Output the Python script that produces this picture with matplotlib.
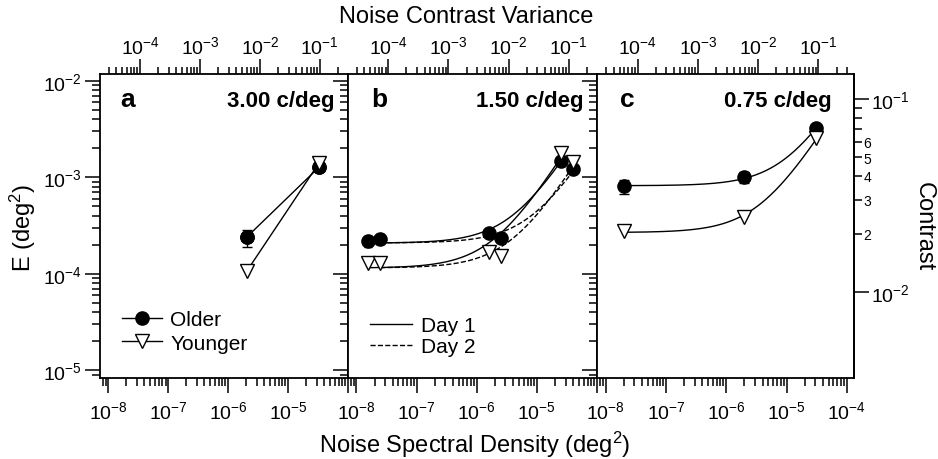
import numpy as np
import matplotlib
matplotlib.use("Agg")
import matplotlib.pyplot as plt
from matplotlib.ticker import LogLocator, FixedLocator, FuncFormatter, NullFormatter

plt.rcParams['font.family'] = ['Liberation Sans', 'DejaVu Sans']
plt.rcParams['mathtext.fontset'] = 'custom'
plt.rcParams['mathtext.rm'] = 'Liberation Sans'
plt.rcParams['mathtext.it'] = 'Liberation Sans:italic'
plt.rcParams['mathtext.bf'] = 'Liberation Sans:bold'
plt.rcParams['axes.linewidth'] = 1.3

# ------------------ data ------------------
# panel a : 3.00 c/deg
a_noise = [2.03e-6, 3.25e-5]
a_older = [2.4e-4, 1.27e-3]
a_older_err = [4.8e-5, 8e-5]
a_younger = [1.06e-4, 1.4e-3]

# panel b : 1.50 c/deg, two sessions
b_noise_day1 = [1.55e-8, 1.58e-6, 2.5e-5]
b_noise_day2 = [2.48e-8, 2.5e-6, 4.03e-5]
b_older_day1 = [2.2e-4, 2.67e-4, 1.49e-3]
b_older_day2 = [2.3e-4, 2.37e-4, 1.21e-3]
b_older_err1 = [2.8e-5, 2.0e-5, 1.0e-4]
b_older_err2 = [2.5e-5, 2.0e-5, 1.0e-4]
b_younger_day1 = [1.3e-4, 1.68e-4, 1.78e-3]
b_younger_day2 = [1.3e-4, 1.55e-4, 1.43e-3]

# panel c : 0.75 c/deg
c_noise = [2.04e-8, 2.0e-6, 3.1e-5]
c_older = [8.1e-4, 1.0e-3, 3.23e-3]
c_older_err = [1.4e-4, 1.3e-4, 1.5e-4]
c_younger = [2.8e-4, 3.88e-4, 2.54e-3]

panel_letters = ['a', 'b', 'c']
panel_freqs = ['3.00 c/deg', '1.50 c/deg', '0.75 c/deg']
bottom_ticks = [1e-8, 1e-7, 1e-6, 1e-5, 1e-4]
top_ticks = [1e-4, 1e-3, 1e-2, 1e-1]

F_VAR = 10 ** 3.47   # spectral density -> contrast variance
K_CON = 0.65         # E = K * contrast^2


def lam_fit(n, e):
    # E = k * (N + Neq), least squares in log space
    n = np.asarray(n)
    e = np.asarray(e)
    best = None
    for neq in np.logspace(-8, -4, 801):
        r = np.log10(e) - np.log10(n + neq)
        lk = r.mean()
        sse = ((r - lk) ** 2).sum()
        if best is None or sse < best[0]:
            best = (sse, 10 ** lk, neq)
    return best[1], best[2]


def fit_curve(ax, n, e, ls):
    k, neq = lam_fit(n, e)
    xs = np.logspace(np.log10(min(n)), np.log10(max(n)), 200)
    ax.plot(xs, k * (xs + neq), color='k', lw=1.0, ls=ls, zorder=2)


def pow_label(v, pos):
    return r'$10^{%d}$' % int(round(np.log10(v)))


older_kw = dict(marker='o', ms=9.5, mfc='k', mec='k', color='k')
young_kw = dict(marker='v', ms=10, mfc='white', mec='k', mew=1.0, color='k')

W, H = 938, 460
fig = plt.figure(figsize=(W / 100, H / 100), dpi=100)


def px_axes(x0, x1, y0, y1):
    return fig.add_axes([x0 / W, 1 - y1 / H, (x1 - x0) / W, (y1 - y0) / H])


ax_a = px_axes(100, 348, 74.7, 379.3)
ax_b = px_axes(348, 597, 74.7, 379.3)
ax_c = px_axes(597, 854, 74.7, 379.3)
axes = [ax_a, ax_b, ax_c]

xlims = [(10 ** -8.14, 1e-4), (10 ** -8.14, 1e-4), (10 ** -8.145, 10 ** -3.88)]

for i, ax in enumerate(axes):
    ax.set_xscale('log')
    ax.set_yscale('log')
    ax.set_xlim(*xlims[i])
    ax.set_ylim(10 ** -5.083, 10 ** -1.924)
    ax.xaxis.set_major_locator(FixedLocator(bottom_ticks))
    ax.xaxis.set_minor_locator(LogLocator(10, subs=np.arange(2, 10), numticks=20))
    ax.yaxis.set_major_locator(LogLocator(10, numticks=20))
    ax.yaxis.set_minor_locator(LogLocator(10, subs=np.arange(2, 10), numticks=20))
    hide_last = i < 2
    ax.xaxis.set_major_formatter(FuncFormatter(
        lambda v, p, h=hide_last: '' if (h and v > 5e-5) else pow_label(v, p)))
    ax.xaxis.set_minor_formatter(NullFormatter())
    ax.yaxis.set_minor_formatter(NullFormatter())
    if i == 0:
        ax.yaxis.set_major_formatter(FuncFormatter(pow_label))
    else:
        ax.yaxis.set_major_formatter(NullFormatter())
    ax.tick_params(which='both', direction='out', top=False, right=False, width=1.1)
    ax.tick_params(which='major', length=11)
    ax.tick_params(which='minor', length=6)
    ax.tick_params(axis='x', which='major', labelsize=14, pad=5)
    ax.tick_params(axis='y', which='major', labelsize=14, pad=2)

    sec = ax.secondary_xaxis('top', functions=(lambda x: x * F_VAR, lambda x: x / F_VAR))
    sec.xaxis.set_major_locator(FixedLocator(top_ticks))
    sec.xaxis.set_minor_locator(LogLocator(10, subs=np.arange(2, 10), numticks=20))
    sec.xaxis.set_major_formatter(FuncFormatter(pow_label))
    sec.xaxis.set_minor_formatter(NullFormatter())
    sec.tick_params(which='both', direction='out', width=1.1)
    sec.tick_params(which='major', length=11, labelsize=14, pad=1)
    sec.tick_params(which='minor', length=5)
    sec.spines['top'].set_visible(False)

    ax.text(0.081 if i == 0 else (0.095 if i == 1 else 0.09), 0.895, panel_letters[i],
            transform=ax.transAxes, fontsize=19, fontweight='bold', ha='left', va='baseline')
    ax.text(0.944 if i < 2 else 0.914, 0.895, panel_freqs[i], transform=ax.transAxes,
            fontsize=16, fontweight='bold', ha='right', va='baseline')

# ------------------ panel a ------------------
ax_a.errorbar(a_noise, a_older, yerr=a_older_err, capsize=3.5, elinewidth=1,
              capthick=1, ls='none', zorder=3, **older_kw)
h_old, = ax_a.plot(a_noise, a_older, lw=1.0, zorder=3, **older_kw)
h_young, = ax_a.plot(a_noise, a_younger, lw=1.0, zorder=4, **young_kw)
ax_a.legend([h_old, h_young], ['Older', 'Younger'], loc='upper left',
            bbox_to_anchor=(0.09, 0.223), frameon=False, fontsize=15,
            handlelength=1.9, handletextpad=0.4, labelspacing=0.2, borderpad=0,
            borderaxespad=0)

# ------------------ panel b ------------------
fit_curve(ax_b, b_noise_day1, b_older_day1, '-')
fit_curve(ax_b, b_noise_day2, b_older_day2, '--')
fit_curve(ax_b, b_noise_day1, b_younger_day1, '-')
fit_curve(ax_b, b_noise_day2, b_younger_day2, '--')
ax_b.errorbar(b_noise_day1, b_older_day1, yerr=b_older_err1, capsize=3, elinewidth=1,
              zorder=3, ls='none', **older_kw)
ax_b.errorbar(b_noise_day2, b_older_day2, yerr=b_older_err2, capsize=3, elinewidth=1,
              zorder=3, ls='none', **older_kw)
ax_b.plot(b_noise_day1, b_younger_day1, ls='none', zorder=4, **young_kw)
ax_b.plot(b_noise_day2, b_younger_day2, ls='none', zorder=4, **young_kw)
h_d1, = ax_b.plot([], [], color='k', lw=1.0, ls='-')
h_d2, = ax_b.plot([], [], color='k', lw=1.0, ls='--')
ax_b.legend([h_d1, h_d2], ['Day 1', 'Day 2'], loc='upper left',
            bbox_to_anchor=(0.09, 0.204), frameon=False, fontsize=15,
            handlelength=2.0, handletextpad=0.45, labelspacing=0.1, borderpad=0,
            borderaxespad=0)

# ------------------ panel c ------------------
fit_curve(ax_c, c_noise, c_older, '-')
fit_curve(ax_c, c_noise, c_younger, '-')
ax_c.errorbar(c_noise, c_older, yerr=c_older_err, capsize=3.5, elinewidth=1, ls='none',
              zorder=3, **older_kw)
ax_c.plot(c_noise, c_younger, ls='none', zorder=4, **young_kw)

secy = ax_c.secondary_yaxis('right', functions=(lambda e: np.sqrt(np.abs(e) / K_CON),
                                                lambda c: K_CON * c ** 2))
secy.yaxis.set_major_locator(FixedLocator([0.01, 0.1]))
secy.yaxis.set_minor_locator(FixedLocator(np.arange(2, 10) * 0.01))
secy.yaxis.set_major_formatter(FuncFormatter(pow_label))
secy.yaxis.set_minor_formatter(FuncFormatter(
    lambda v, p: str(int(round(v * 100))) if v < 0.065 else ''))
secy.tick_params(which='both', direction='out', width=1.1)
secy.tick_params(which='major', length=11, labelsize=14, pad=1)
secy.tick_params(which='minor', length=6, labelsize=10, pad=1)

# ------------------ shared labels ------------------
fig.text(466 / W, 1 - 17 / H, 'Noise Contrast Variance', ha='center', va='center', fontsize=17)
fig.text(475 / W, 1 - 445 / H, 'Noise Spectral Density (deg$^2$)', ha='center', va='center',
         fontsize=17)
fig.text(23 / W, 1 - 228 / H, 'E (deg$^2$)', ha='center', va='center', rotation=90, fontsize=17)
fig.text(924 / W, 1 - 227 / H, 'Contrast', ha='center', va='center', rotation=270, fontsize=17)

fig.savefig('out.png', dpi=100)
